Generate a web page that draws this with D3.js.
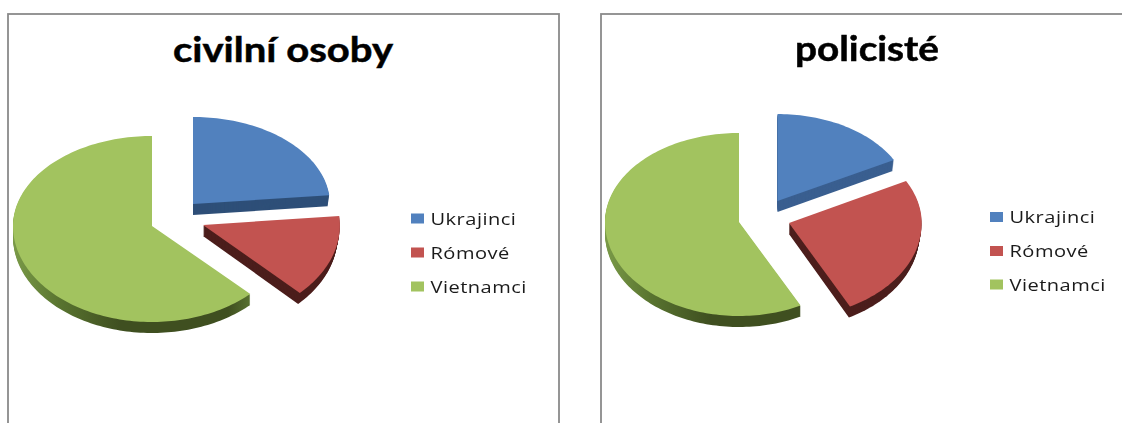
<!DOCTYPE html>
<html><head><meta charset="utf-8">
<script src="https://cdn.jsdelivr.net/npm/d3@7/dist/d3.min.js"></script>
<style>html,body{margin:0;padding:0;background:#fff;overflow:hidden}svg{display:block;filter:blur(.6px)}</style>
</head><body><svg id="c" width="1122" height="423"></svg>
<script>
const categories = ["Ukrajinci", "Rómové", "Vietnamci"];
const civilValues = [23.4, 14.1, 62.5];
const policeValues = [17.2, 25.2, 57.6];
const titles = ["civilní osoby", "policisté"];

const topColors = ["#5181be", "#c25350", "#a2c35f"];
const wallColors = ["#2e4f78", "#4c1e1c", null];

const panels = [
  {values: civilValues, title: titles[0], box: [8, 14, 551, 420], titleX: 283, titleY: 62, titleW: 220,
   rx: 139, ryTop: 90, ryBottom: 96, depth: 11, sliceRx: [.985, .985, 1], sliceRy: [.967, 1, 1],
   apex: [[193, 204], [203, 225], [152, 226]], legendX: 411, legendY: [218.5, 252.5, 286.5], wall0: "#2e4f78"},
  {values: policeValues, title: titles[1], box: [601, 14, 530, 420], titleX: 867, titleY: 61, titleW: 144,
   rx: 134, ryTop: 89, ryBottom: 94, depth: 11, sliceRx: [.985, .99, 1], sliceRy: [.977, 1, 1],
   apex: [[777.5, 201], [789, 223], [739, 222]], legendX: 990, legendY: [217, 251, 284.5], wall0: "#3a5f90"}
];

const svg = d3.select("#c");
const defs = svg.append("defs");

panels.forEach((p, pi) => {
  const g = svg.append("g");
  g.append("rect").attr("x", p.box[0]).attr("y", p.box[1]).attr("width", p.box[2]).attr("height", p.box[3])
    .attr("fill", "#fff").attr("stroke", "#8a8a8a").attr("stroke-width", 1.8);

  g.append("text").text(p.title).attr("x", p.titleX).attr("y", p.titleY).attr("text-anchor", "middle")
    .attr("font-family", "Lato, sans-serif").attr("font-weight", 700).attr("font-size", 35).attr("fill", "#000")
    .attr("stroke", "#000").attr("stroke-width", .5)
    .attr("textLength", p.titleW).attr("lengthAdjust", "spacingAndGlyphs");

  const arcs = d3.pie().sort(null)(p.values);
  const outline = (d, i, shrink) => {
    const [ax, ay] = p.apex[i];
    const n = Math.max(2, Math.ceil((d.endAngle - d.startAngle) * 40));
    const pts = [[ax, ay]];
    d3.range(n + 1).forEach(k => {
      const t = d.startAngle + (d.endAngle - d.startAngle) * k / n;
      const c = Math.cos(t);
      pts.push([ax + p.rx * p.sliceRx[i] * (1 - shrink) * Math.sin(t),
                ay - c * (c > 0 ? p.ryTop * p.sliceRy[i] : p.ryBottom)]);
    });
    return d3.line().curve(d3.curveLinearClosed)(pts);
  };

  const gradId = "wall" + pi;
  const gr = defs.append("linearGradient").attr("id", gradId).attr("gradientUnits", "userSpaceOnUse")
    .attr("x1", p.apex[2][0] - p.rx).attr("x2", p.apex[2][0] + 100).attr("y1", 0).attr("y2", 0);
  gr.append("stop").attr("offset", 0).attr("stop-color", "#7a9a48");
  gr.append("stop").attr("offset", .2).attr("stop-color", "#58732f");
  gr.append("stop").attr("offset", .45).attr("stop-color", "#3f4f20");
  gr.append("stop").attr("offset", .9).attr("stop-color", "#3f4f20");
  gr.append("stop").attr("offset", 1).attr("stop-color", "#5a7432");

  const wall = i => i === 0 ? p.wall0 : i === 2 ? `url(#${gradId})` : wallColors[i];
  const wallShrink = [.001, .0016, 0];

  const slices = g.selectAll("g.slice").data(arcs).join("g").attr("class", "slice");
  slices.each(function (d, i) {
    const s = d3.select(this);
    s.selectAll("path.w").data(d3.range(p.depth, 0, -1)).join("path").attr("class", "w")
      .attr("d", k => outline(d, i, k * wallShrink[i])).attr("transform", k => `translate(0,${k})`)
      .attr("fill", wall(i));
    s.append("path").attr("d", outline(d, i, 0)).attr("fill", topColors[i]);
  });

  const leg = g.selectAll("g.leg").data(categories).join("g").attr("class", "leg");
  leg.append("rect").attr("x", p.legendX).attr("y", (d, i) => p.legendY[i] - 5)
    .attr("width", 13).attr("height", 10).attr("fill", (d, i) => topColors[i]);
  leg.append("text").text(d => d).attr("x", p.legendX + 19.5).attr("y", (d, i) => p.legendY[i] + 6)
    .attr("font-family", "'Open Sans', sans-serif").attr("font-size", 17).attr("letter-spacing", .4)
    .attr("fill", "#1a1a1a")
    .each(function () {
      d3.select(this).attr("textLength", this.getComputedTextLength() * 1.18).attr("lengthAdjust", "spacingAndGlyphs");
    });
});
</script></body></html>
